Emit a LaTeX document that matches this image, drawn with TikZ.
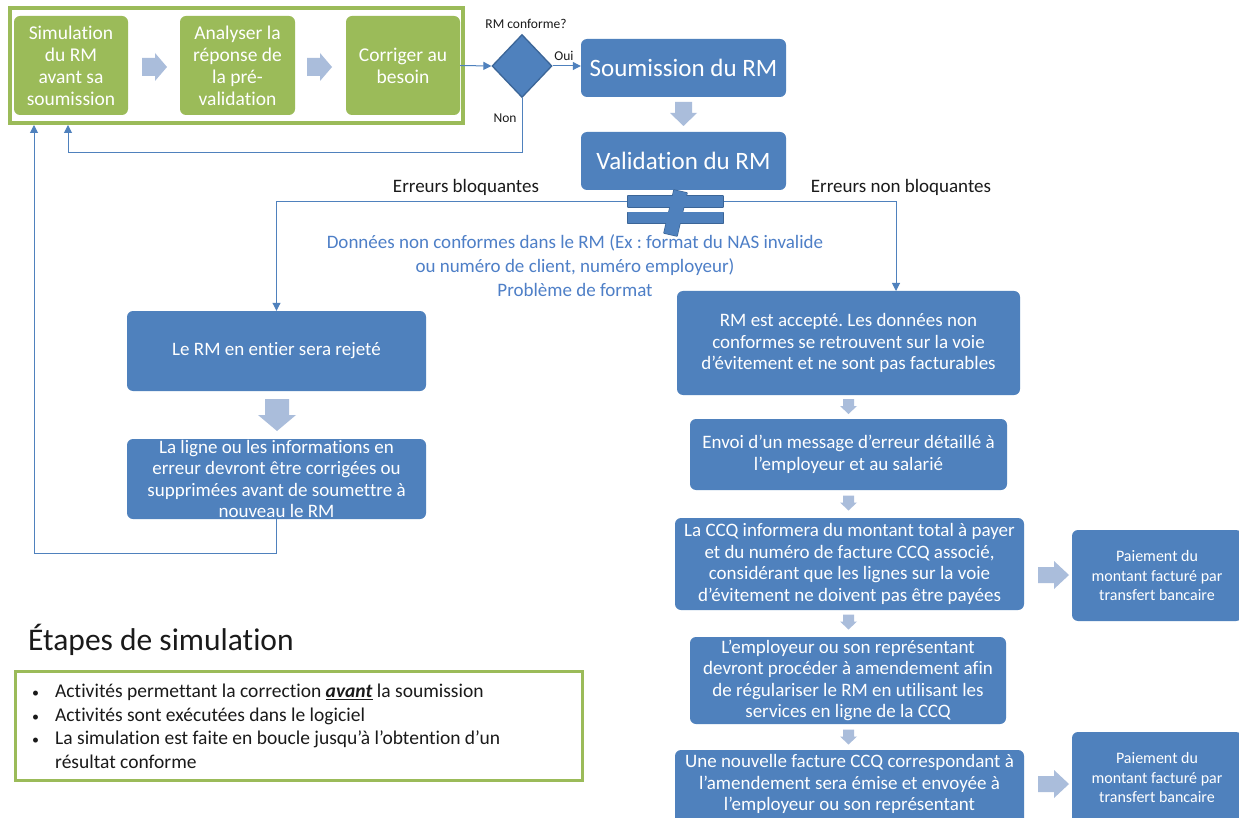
\documentclass[tikz,border=0pt]{standalone}
\usepackage{fontspec}
\setmainfont{Carlito}[Ligatures={NoCommon}]
\usetikzlibrary{shapes.geometric,arrows.meta}
\frenchspacing
\definecolor{boxblue}{HTML}{4F81BD}
\definecolor{dblue}{HTML}{3B6597}
\definecolor{boxgreen}{HTML}{9BBB59}
\definecolor{arrowc}{HTML}{AABDDB}
\definecolor{txtblue}{HTML}{4E7FC7}
\definecolor{labc}{HTML}{1A1A1A}
\tikzset{
  gbox/.style={rectangle, rounded corners=6pt, fill=boxgreen, text=white, align=center, inner sep=1pt,
    font=\fontsize{19.5}{22}\selectfont},
  bbox/.style={rectangle, rounded corners=6pt, fill=boxblue, text=white, align=center, inner sep=1pt,
    font=\fontsize{19}{21.5}\selectfont},
  btext/.style={text=white, align=center, inner sep=0pt, font=\fontsize{19}{21.5}\selectfont},
  pbox/.style={bbox, font=\fontsize{16}{19.5}\selectfont},
  blk/.style={fill=arrowc},
  neq/.style={fill=boxblue},
  neqline/.style={draw=dblue, line width=1.4pt, line join=round},
  conn/.style={draw=boxblue, line width=1pt, -{Triangle[length=8pt,width=8pt]}},
  lab/.style={text=labc, inner sep=0pt, font=\fontsize{19}{22}\selectfont},
  slab/.style={text=labc, inner sep=0pt, font=\fontsize{13.5}{15}\selectfont},
}
% block arrow: cx, cy, rotation, length, total width, shaft width, head length
\newcommand{\blkarrow}[7]{%
  \path[blk, shift={(#1,#2)}, rotate=#3]
    ({-#4/2},{-#6/2}) -- ({#4/2-#7},{-#6/2}) -- ({#4/2-#7},{-#5/2}) -- ({#4/2},0)
    -- ({#4/2-#7},{#5/2}) -- ({#4/2-#7},{#6/2}) -- ({-#4/2},{#6/2}) -- cycle;}
\begin{document}
\begin{tikzpicture}[x=1pt,y=-1pt]
\useasboundingbox (0,0) rectangle (1239,818);
\clip (0,0) rectangle (1239,818);
\fill[white] (0,0) rectangle (1239,818);

% top green group
\node[draw=boxgreen, line width=3.5pt, minimum width=453pt, minimum height=115pt, inner sep=0pt] (frame) at (236.5,65.5) {};
\node[gbox, minimum width=114pt, minimum height=99pt] (b1) at (71,65.5) {Simulation\\du RM\\avant sa\\soumission};
\node[gbox, minimum width=115pt, minimum height=99pt] (b2) at (237.5,65.5) {Analyser la\\réponse de\\la pré-\\validation};
\node[gbox, minimum width=114pt, minimum height=99pt] (b3) at (403,65.5) {Corriger au\\besoin};
\blkarrow{154.5}{67}{0}{25}{28}{18}{12}
\blkarrow{319.5}{67}{0}{25}{28}{18}{12}

% decision
\node[diamond, fill=boxblue, draw=dblue, line width=1.3pt, minimum width=60pt, minimum height=63pt, inner sep=0pt] (dia) at (522,66) {};
\node[slab] (conf) at (526,24) {RM conforme?};
\node[bbox, minimum width=205pt, minimum height=58pt, font=\fontsize{25}{28}\selectfont] (soum) at (683.5,68) {Soumission du RM};
\node[bbox, minimum width=205pt, minimum height=58pt, font=\fontsize{25}{28}\selectfont] (valid) at (683.5,161) {Validation du RM};
\blkarrow{683.5}{114}{-90}{24}{27}{17}{13}

\draw[conn] (b3.east) -- (dia.west);
\draw[conn] (dia.east) -- (dia.east -| soum.west);
\node[slab] (oui) at (564,56) {Oui};
\node[slab] (non) at (505,118) {Non};
\coordinate (nonend) at (68,125);
\draw[conn] (dia.south) -- (dia.south |- 0,153) -| (nonend);

% errors split
\node[lab] (eb) at (466,187) {Erreurs bloquantes};
\node[lab] (enb) at (901,187) {Erreurs non bloquantes};
\coordinate (split) at (683.5,201.5);
\coordinate (accin) at (896,291);

% left branch
\node[bbox, minimum width=299pt, minimum height=80pt] (rej) at (276.5,351) {Le RM en entier sera rejeté};
\node[bbox, minimum width=299pt, minimum height=80pt] (ligne) at (276.5,479) {La ligne ou les informations en\\erreur devront être corrigées ou\\supprimées avant de soumettre à\\nouveau le RM};
\blkarrow{277}{415}{-90}{32}{38}{24}{16}
\draw[conn] (split) -| (rej.north);
\draw[conn] (split) -| (accin);
\coordinate (loopend) at (34,125);
\draw[conn] (ligne.south) -- ++(0,34) -| (loopend);

% not-equal sign (outline of the union, then fill)
\draw[neqline] (628,196) rectangle (723,207);
\draw[neqline] (628,212.5) rectangle (723,223.5);
\draw[neqline] (674,190) -- (687,193) -- (677,236) -- (664,233) -- cycle;
\fill[neq] (628,196) rectangle (723,207);
\fill[neq] (628,212.5) rectangle (723,223.5);
\fill[neq] (674,190) -- (687,193) -- (677,236) -- (664,233) -- cycle;

\node[text=txtblue, align=center, inner sep=0pt, font=\fontsize{19}{24}\selectfont] (donnees) at (575,266) {Données non conformes dans le RM (Ex : format du NAS invalide\\ou numéro de client, numéro employeur)\\Problème de format};

% right branch
\node[bbox, minimum width=343pt, minimum height=104pt] (acc) at (848.5,343) {RM est accepté. Les données non\\conformes se retrouvent sur la voie\\d’évitement et ne sont pas facturables};
\node[bbox, minimum width=317pt, minimum height=71pt] (envoi) at (848.5,454.5) {Envoi d’un message d’erreur détaillé à\\l’employeur et au salarié};
\node[bbox, minimum width=349pt, minimum height=92pt] (ccq) at (849.5,564) {La CCQ informera du montant total à payer\\et du numéro de facture CCQ associé,\\considérant que les lignes sur la voie\\d’évitement ne doivent pas être payées};
\node[bbox, minimum width=316pt, minimum height=87pt] (emp) at (848,680.5) {L’employeur ou son représentant\\devront procéder à amendement afin\\de régulariser le RM en utilisant les\\services en ligne de la CCQ};
\node[bbox, minimum width=349pt, minimum height=76pt] (nouv) at (849.5,788) {};
\node[btext] (nouvt) at (849.5,784) {Une nouvelle facture CCQ correspondant à\\l’amendement sera émise et envoyée à\\l’employeur ou son représentant};
\blkarrow{848.5}{406.5}{-90}{15}{17}{11}{8}
\blkarrow{848.5}{503}{-90}{15}{17}{11}{8}
\blkarrow{848.5}{622}{-90}{15}{17}{11}{8}
\blkarrow{848.5}{737}{-90}{15}{17}{11}{8}
\blkarrow{1053.5}{575}{0}{31}{28}{16}{15}
\blkarrow{1053.5}{784}{0}{31}{28}{16}{15}
\node[pbox, minimum width=170pt, minimum height=91pt] (pay1) at (1157,575.5) {Paiement du\\montant facturé par\\transfert bancaire};
\node[pbox, minimum width=170pt, minimum height=91pt] (pay2) at (1157,777.5) {Paiement du\\montant facturé par\\transfert bancaire};

% legend
\node[anchor=base west, inner sep=0pt, text=labc, font=\fontsize{31.5}{36}\selectfont] (titre) at (28,650) {Étapes de simulation};
\node[draw=boxgreen, line width=3pt, minimum width=567pt, minimum height=109pt, inner sep=0pt] (leg) at (298.5,725.5) {};
\node[anchor=north west, inner sep=0pt, text=labc, align=left, font=\fontsize{19.5}{23.5}\selectfont] (items) at (30,681) {%
\begin{tabular}{@{}p{25pt}@{}l@{}}
\hspace{2pt}{\fontsize{14}{14}\selectfont •} & Activités permettant la correction \underline{\textbf{\textit{avant}}} la soumission\\
\hspace{2pt}{\fontsize{14}{14}\selectfont •} & Activités sont exécutées dans le logiciel\\
\hspace{2pt}{\fontsize{14}{14}\selectfont •} & La simulation est faite en boucle jusqu’à l’obtention d’un\\
 & résultat conforme
\end{tabular}};
\end{tikzpicture}
\end{document}
